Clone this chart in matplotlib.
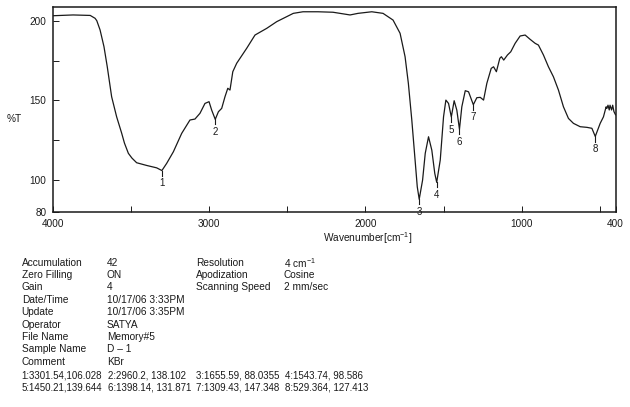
import numpy as np
import matplotlib
matplotlib.use("Agg")
import matplotlib.pyplot as plt

plt.rcParams['font.family'] = ['Liberation Sans', 'DejaVu Sans']
plt.rcParams['mathtext.fontset'] = 'custom'
plt.rcParams['mathtext.rm'] = 'Liberation Sans'
plt.rcParams['mathtext.it'] = 'Liberation Sans:italic'

# spectrum (wavenumber, %T)
wavenumber = [4000, 3870, 3760, 3729, 3718, 3697, 3672, 3651, 3623, 3591, 3559, 3541, 3516,
              3493, 3463, 3399, 3335, 3301.5, 3271, 3228, 3175, 3122, 3090, 3058, 3026, 3000,
              2983, 2960.2, 2940, 2919, 2898, 2880, 2866, 2848, 2823, 2759, 2706, 2631,
              2567, 2461, 2399, 2303, 2207, 2098, 2047, 1959, 1887, 1823, 1778, 1746,
              1725, 1703, 1682, 1668, 1655.6, 1634, 1617, 1596, 1575, 1556, 1543.7, 1521,
              1500, 1485, 1468, 1450.2, 1432, 1415, 1398.1, 1383, 1361, 1340, 1309.4, 1287,
              1265, 1244, 1223, 1195, 1180, 1162, 1140, 1130, 1115, 1091, 1070, 1042,
              1010, 978, 946, 914, 893, 861, 829, 797, 765, 733, 701, 669,
              626, 583, 551, 529.4, 498, 477, 460, 455, 448, 440, 435, 425,
              418, 410, 400]
transmittance = [203.1, 203.6, 203.3, 201.5, 200.0, 194.2, 183.7, 171.1, 152.3, 139.7, 129.5, 123.2, 116.8,
                 113.8, 110.9, 109.2, 107.7, 106.0, 110.5, 117.8, 129.3, 137.7, 138.3, 141.9, 148.1, 149.2,
                 143.9, 138.1, 142.9, 145.0, 152.3, 157.6, 156.5, 168.0, 173.3, 182.7, 191.0, 195.2,
                 199.4, 204.6, 205.6, 205.6, 205.3, 203.6, 204.6, 205.6, 204.6, 200.4, 192.1, 177.4,
                 160.7, 137.7, 112.6, 95.8, 88.0, 100.0, 116.8, 127.2, 118.8, 104.2, 98.6, 112.6,
                 139.7, 150.2, 148.1, 139.6, 149.8, 143.9, 131.9, 146.0, 156.1, 155.4, 147.3, 151.7,
                 151.9, 150.2, 160.7, 170.1, 171.1, 168.0, 176.4, 177.4, 175.3, 178.5, 180.5, 185.8,
                 190.4, 191.0, 188.3, 185.8, 184.7, 178.5, 171.1, 164.8, 156.5, 146.0, 138.7, 135.6,
                 133.5, 133.1, 132.5, 127.4, 135.6, 139.7, 146.0, 145.0, 147.0, 144.0, 147.0, 144.0,
                 147.0, 143.0, 141.0]

# peak table
peak_wn = [3301.54, 2960.2, 1655.59, 1543.74, 1450.21, 1398.14, 1309.43, 529.364]
peak_t = [106.028, 138.102, 88.0355, 98.586, 139.644, 131.871, 147.348, 127.413]
peak_txt = ["1:3301.54,106.028", "2:2960.2, 138.102", "3:1655.59, 88.0355", "4:1543.74, 98.586",
            "5:1450.21,139.644", "6:1398.14, 131.871", "7:1309.43, 147.348", "8:529.364, 127.413"]

info_left = [("Accumulation", "42"), ("Zero Filling", "ON"), ("Gain", "4"),
             ("Date/Time", "10/17/06 3:33PM"), ("Update", "10/17/06 3:35PM"),
             ("Operator", "SATYA"), ("File Name", "Memory#5"),
             ("Sample Name", "D \u2013 1"), ("Comment", "KBr")]
info_right = [("Resolution", "4 cm$^{-1}$"), ("Apodization", "Cosine"),
              ("Scanning Speed", "2 mm/sec")]

W, H = 630, 407
fig = plt.figure(figsize=(6.3, 4.07), dpi=100)
ax = fig.add_axes([52.7 / W, 1 - 212 / H, (615.5 - 52.7) / W, (212 - 7.3) / H])

col = '#1a1a1a'
ax.plot(wavenumber, transmittance, color=col, lw=0.9)

for i, (w, t) in enumerate(zip(peak_wn, peak_t)):
    ax.plot([w, w], [t, t - 3.2], color=col, lw=0.8)
    ax.annotate(str(i + 1), (w, t), xytext=(0, -5.5), textcoords='offset points',
                ha='center', va='top', fontsize=7, color=col, annotation_clip=False)

ax.set_xlim(4000, 400)
ax.set_ylim(80, 208.4)
ax.set_xticks([4000, 3500, 3000, 2500, 2000, 1500, 1000, 500, 400])
ax.set_xticklabels(['4000', '', '3000', '', '2000', '', '1000', '', '400'])
ax.set_yticks([80, 100, 125, 150, 175, 200])
ax.set_yticklabels(['80', '100', '', '150', '', '200'])
ax.tick_params(direction='in', length=4, width=0.7, labelsize=7.2, colors=col)
ax.tick_params(axis='y', pad=4.5)
ax.tick_params(axis='x', pad=5)
for s in ax.spines.values():
    s.set_linewidth(1.1)
    s.set_color(col)

fs = 7.3
fig.text(14.5 / W, 1 - 119 / H, '%T', fontsize=fs, color=col, ha='center', va='center')
fig.text(368 / W, 1 - 238 / H, 'Wavenumber[cm$^{-1}$]', fontsize=fs, color=col,
         ha='center', va='center')

# info block
y0, dy = 262.7, 12.4
for k, (lab, val) in enumerate(info_left):
    y = 1 - (y0 + k * dy) / H
    fig.text(21.7 / W, y, lab, fontsize=fs, color=col, va='center')
    fig.text(106.7 / W, y, val, fontsize=fs, color=col, va='center')
for k, (lab, val) in enumerate(info_right):
    y = 1 - (y0 + k * dy) / H
    fig.text(196 / W, y, lab, fontsize=fs, color=col, va='center')
    fig.text(284 / W, y, val, fontsize=fs, color=col, va='center')

xcols = [21.7, 108, 196, 285]
for k, txt in enumerate(peak_txt):
    y = 1 - (376 + (k // 4) * 12) / H
    fig.text(xcols[k % 4] / W, y, txt, fontsize=7, color=col, va='center')

fig.savefig('out.png', dpi=100)
